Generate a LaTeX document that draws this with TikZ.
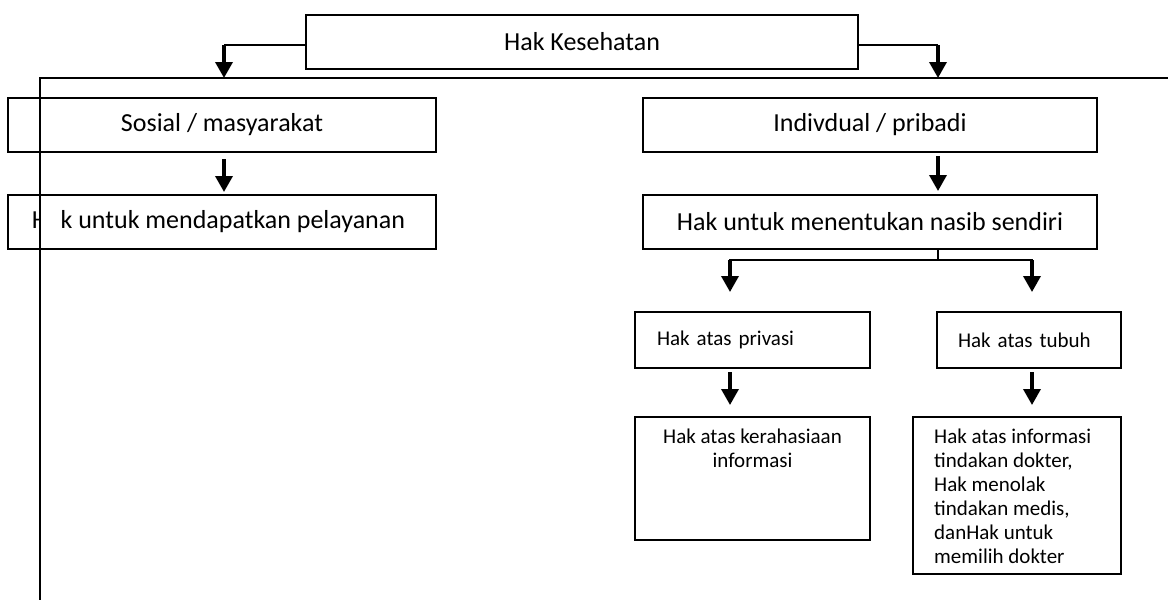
\documentclass[tikz,border=0pt]{standalone}
\usepackage{fontspec}
\setmainfont{Carlito}
\usetikzlibrary{arrows.meta}

\begin{document}
\begin{tikzpicture}[x=1pt,y=-1pt]
	\useasboundingbox (0,0) rectangle (1168,600);
	\tikzstyle{box}=[draw,rectangle,line width=2,inner sep=0];
	\tikzstyle{bigtext}=[font=\fontsize{26}{31}\selectfont];
	\tikzstyle{smalltext}=[font=\fontsize{21}{24}\selectfont];
	\tikzstyle{line}=[line width=2];
	\tikzstyle{arr}=[line width=3.5,-{Triangle[width=17pt,length=16pt]}];

	\path (582,42)    node[box,bigtext,minimum width=552,minimum height=54] (hak) {Hak Kesehatan};
	\path (222,125)   node[box,bigtext,minimum width=428,minimum height=54] (sosial) {Sosial / masyarakat};
	\path (222,222)   node[box,bigtext,minimum width=428,minimum height=54] (layanan) {Hak untuk mendapatkan pelayanan\hspace*{7pt}};
	\path (870,125)   node[box,bigtext,minimum width=454,minimum height=54] (individu) {Indivdual / pribadi};
	\path (870,222)   node[box,bigtext,minimum width=454,minimum height=54] (nasib) {Hak untuk menentukan nasib sendiri};
	\path (752.5,340) node[box,smalltext,minimum height=56,text width=191,inner xsep=22,align=left] (privasi) {Hak atas privasi};
	\path (1029,340)  node[box,smalltext,minimum height=56,text width=142,inner xsep=21,align=left] (tubuh) {Hak atas tubuh};
	\path (752.5,478.5) node[box,minimum width=235,minimum height=123] (rahasia) {};
	\node[smalltext,align=center,anchor=north,inner sep=0] (rahasiaTxt) at ([yshift=-13]rahasia.north) {Hak atas kerahasiaan\\informasi};
	\path (1017,495.5) node[box,minimum width=208,minimum height=157] (hakTubuh) {};
	\node[smalltext,align=left,anchor=north west,inner sep=0] (hakTubuhTxt) at ([xshift=22,yshift=-13]hakTubuh.north west) {Hak atas informasi\\tindakan dokter,\\Hak menolak\\tindakan medis,\\danHak untuk\\memilih dokter};

	\coordinate (kiri)    at (224,45);
	\coordinate (kanan)   at (938,45);
	\coordinate (garisL)  at (39,78);
	\coordinate (garisR)  at (1168,78);
	\coordinate (tiangT)  at (40,78);
	\coordinate (tiangB)  at (40,600);
	\coordinate (cabang)  at (938,260);
	\coordinate (cabangL) at (730,260);
	\coordinate (cabangR) at (1032,260);

	\draw[line] ([yshift=-3]hak.west) -- (kiri);
	\draw[arr] (kiri) -- (kiri |- garisL);
	\draw[line] ([yshift=-3]hak.east) -- (kanan);
	\draw[arr] (kanan) -- (kanan |- garisR);
	\draw[arr,shorten <=6,shorten >=2] ([xshift=2]sosial.south) -- ([xshift=2]layanan.north);
	\draw[arr,shorten <=3,shorten >=3] (individu.south -| cabang) -- (nasib.north -| cabang);
	\draw[line] (nasib.south -| cabang) -- (cabang);
	\draw[line] ([xshift=-1]cabangL) -- ([xshift=1]cabangR);
	\draw[arr,shorten >=19] (cabangL) -- (cabangL |- privasi.north);
	\draw[arr,shorten >=19] (cabangR) -- (cabangR |- tubuh.north);
	\draw[arr,shorten <=3,shorten >=11] (privasi.south -| cabangL) -- (rahasia.north -| cabangL);
	\draw[arr,shorten <=3,shorten >=11] (tubuh.south -| cabangR) -- (hakTubuh.north -| cabangR);

	% garis tepi kiri & atas
	\fill[white] (41,199) rectangle (60,245);
	\draw[line] (garisL) -- (garisR);
	\draw[line] (tiangT) -- (tiangB);
\end{tikzpicture}
\end{document}
